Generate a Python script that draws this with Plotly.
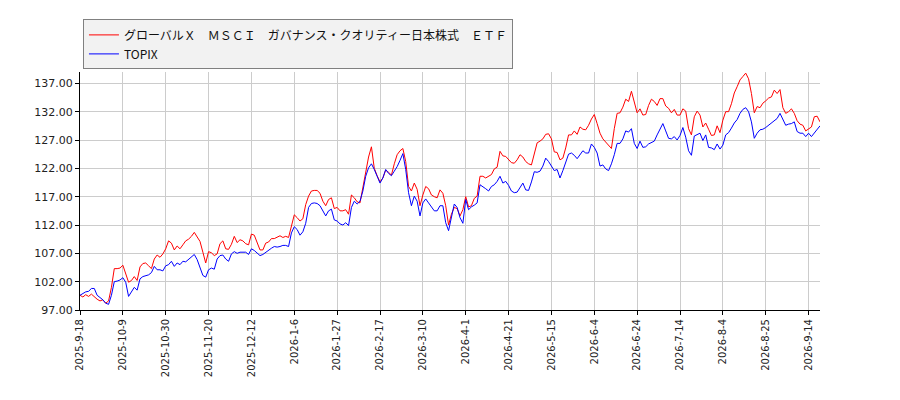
import plotly.graph_objects as go

# ---------------------------------------
# Data (one value per trading day)
# ---------------------------------------
etf_name = "グローバルＸ　ＭＳＣＩ　ガバナンス・クオリティー日本株式　ＥＴＦ"
topix_name = "TOPIX"

etf = [
    99.6, 99.3, 99.7, 99.4, 99.8, 99.3, 98.9, 98.6, 98.8, 98.2, 98.6, 101.0, 104.3, 104.3, 104.4, 104.9,
    103.4, 101.9, 102.2, 102.9, 102.2, 104.6, 105.2, 105.3, 104.8, 104.3, 106.0, 106.7, 106.3, 106.9, 107.8,
    109.2, 108.8, 107.6, 108.3, 107.8, 108.5, 109.2, 109.5, 110.0, 110.7, 109.8, 109.1, 107.2, 105.3, 107.3,
    107.1, 106.6, 106.9, 108.7, 109.2, 107.8, 107.7, 108.6,
    110.0, 108.9, 109.4, 109.2, 108.7, 108.5, 110.4,
    110.2, 108.9, 107.6, 107.6, 108.8, 109.0, 109.6, 109.6, 109.8, 110.1, 109.8, 110.0, 109.8, 111.9, 113.8,
    113.3, 112.7, 113.1, 115.6, 117.1, 118.0, 118.1, 118.1, 117.6, 116.2, 115.4, 116.5, 116.8, 114.9, 115.1,
    114.5, 114.5, 114.7, 113.9, 117.3, 116.8, 116.1, 115.9, 118.8, 121.7, 124.0, 125.8, 122.0, 120.7, 119.6,
    120.3, 121.7, 121.3, 120.8, 122.8, 124.4, 125.1, 125.5, 123.2, 118.8, 118.0, 119.4, 118.3, 115.4, 117.3,
    118.8, 118.4, 117.3, 117.0, 116.8, 118.2, 117.6, 115.4, 112.0, 113.9, 115.1, 114.9, 113.6, 114.7, 117.0,
    115.2, 115.4, 116.7, 117.1, 120.6, 120.6, 120.3, 120.6, 120.9, 121.9, 122.2, 125.0, 124.2, 124.1, 123.6,
    123.0, 122.9, 123.5, 124.4, 124.0, 123.2, 122.8, 122.6, 124.4, 126.5, 126.8, 127.2, 128.0, 128.1, 127.2,
    124.9, 124.8, 123.5, 123.8, 125.6, 127.9, 127.9, 128.6, 128.0, 129.3, 128.9, 128.8, 129.6, 130.7, 131.5,
    129.9, 128.2, 127.2, 126.6, 126.1, 125.5, 129.0, 131.7, 131.8, 132.8, 134.2, 133.8, 135.6, 133.6, 131.8,
    132.5, 131.4, 131.5, 133.1, 134.2, 133.8, 133.1, 134.3, 134.3, 133.0, 132.6, 131.8, 132.4, 131.4, 131.4,
    132.5, 132.1, 129.0, 127.9, 131.1, 132.1, 131.4, 129.3, 130.0, 128.9, 127.8, 127.9, 129.5, 128.3, 130.5,
    132.0, 132.0, 133.4, 135.3, 136.4, 137.6, 138.2, 138.8, 137.8, 135.2, 131.8, 132.9, 132.7, 133.5, 133.9,
    134.4, 134.6, 135.8, 135.2, 135.9, 132.7, 131.7, 132.0, 132.5, 131.7, 130.4, 129.8, 129.6, 128.6, 129.0,
    129.3, 131.1, 131.2, 130.2,
]

topix = [
    99.6, 99.9, 100.2, 100.3, 100.8, 100.8, 99.6, 99.2, 98.8, 98.2, 98.0, 99.6, 102.0, 102.1, 102.3, 102.7,
    101.9, 99.4, 100.3, 101.0, 100.5, 102.5, 102.9, 103.0, 103.2, 103.6, 104.7, 104.1, 104.1, 103.9, 104.8,
    105.0, 105.6, 104.7, 105.3, 105.0, 105.6, 105.5, 105.9, 106.3, 106.8, 105.9, 104.6, 103.1, 102.8, 104.1,
    104.4, 104.2, 106.0, 106.6, 106.7, 106.0, 105.6, 106.9,
    107.3, 107.0, 107.2, 107.2, 107.2, 106.8, 107.8,
    107.5, 107.0, 106.6, 106.8, 107.2, 107.5, 107.9, 108.2, 108.1, 108.2, 108.4, 108.4, 108.2, 110.6, 111.7,
    111.2, 110.2, 110.8, 112.3, 115.1, 115.8, 115.9, 115.8, 115.4, 114.5, 113.6, 114.5, 114.8, 112.9, 112.7,
    112.2, 112.0, 112.4, 111.9, 115.1, 116.2, 115.7, 116.2, 118.0, 120.6, 122.1, 122.8, 121.8, 120.5, 119.4,
    120.3, 121.8, 121.1, 120.7, 121.5, 122.3, 123.4, 124.6, 121.8, 117.7, 115.4, 117.1, 116.2, 113.6, 115.9,
    116.6, 115.9, 115.1, 114.5, 114.5, 115.4, 115.4, 112.4, 111.0, 113.6, 115.7, 115.1, 113.3, 112.3, 116.5,
    114.7, 115.2, 115.5, 115.9, 119.1, 118.8, 118.4, 118.0, 118.8, 119.1, 119.7, 120.6, 119.4, 119.7, 119.0,
    118.0, 117.7, 117.8, 118.6, 119.4, 118.2, 118.1, 119.6, 121.4, 121.3, 121.5, 122.4, 123.8, 123.2, 122.4,
    121.6, 121.8, 120.3, 121.6, 122.9, 124.5, 124.7, 124.3, 123.7, 124.5, 125.1, 124.7, 124.7, 126.3, 125.7,
    124.7, 122.4, 122.6, 121.9, 121.6, 122.8, 124.4, 126.4, 126.4, 127.2, 128.6, 128.4, 129.0, 126.4, 125.5,
    126.8, 125.7, 125.8, 126.3, 126.6, 126.8, 127.9, 128.8, 129.9, 128.6, 127.3, 127.2, 127.6, 127.0, 127.8,
    129.2, 127.5, 125.1, 124.3, 127.7, 127.9, 128.2, 126.9, 127.9, 125.7, 125.6, 125.3, 126.3, 125.4, 126.1,
    127.9, 128.3, 129.1, 130.0, 130.6, 131.7, 132.4, 132.7, 132.0, 130.2, 127.3, 128.2, 128.8, 128.9, 129.2,
    129.6, 130.0, 130.5, 130.8, 131.7, 130.5, 129.6, 129.8, 129.9, 130.2, 128.5, 128.2, 128.2, 127.6, 128.2,
    127.6, 128.3, 129.0, 129.5,
]

# every 15th trading day gets a date label
tick_labels = [
    "2025-9-18", "2025-10-9", "2025-10-30", "2025-11-20", "2025-12-12", "2026-1-6",
    "2026-1-27", "2026-2-17", "2026-3-10", "2026-4-1", "2026-4-21", "2026-5-15",
    "2026-6-4", "2026-6-24", "2026-7-14", "2026-8-4", "2026-8-25", "2026-9-14",
]
tick_step = 15

y_ticks = [97, 102, 107, 112, 117, 122, 127, 132, 137]

# ---------------------------------------
# Build figure
# (page body has an 8px margin, so the figure is sized 892x392)
# ---------------------------------------
days = list(range(len(etf)))

fig = go.Figure()
fig.add_trace(go.Scatter(x=days, y=etf, mode="lines", name=etf_name,
                         line=dict(color="#ff0000", width=1)))
fig.add_trace(go.Scatter(x=days, y=topix, mode="lines", name=topix_name,
                         line=dict(color="#0000ff", width=1)))

fig.update_layout(
    width=892, height=392,
    margin=dict(l=72, r=80, t=62, b=90),
    paper_bgcolor="white", plot_bgcolor="white",
    font=dict(family="DejaVu Sans, Noto Sans CJK JP", size=11, color="#222222"),
    showlegend=True,
    legend=dict(
        x=0.004, y=1.221, xanchor="left", yanchor="top",
        bgcolor="#f2f2f2", bordercolor="#808080", borderwidth=1,
        font=dict(family="Noto Sans CJK JP, DejaVu Sans", size=12, color="#111111"),
        tracegroupgap=0, itemwidth=30,
    ),
)

fig.update_xaxes(
    range=[0, len(etf) - 1],
    tickmode="array",
    tickvals=[i * tick_step for i in range(len(tick_labels))],
    ticktext=tick_labels,
    tickangle=-90,
    tickfont=dict(size=10),
    showgrid=True, gridcolor="#cccccc", gridwidth=1,
    showline=True, linecolor="black", linewidth=1,
    ticks="outside", ticklen=4, tickcolor="black",
    zeroline=False,
)
fig.update_yaxes(
    range=[97, 139],
    tickmode="array",
    tickvals=y_ticks,
    tickformat=".2f",
    showgrid=True, gridcolor="#cccccc", gridwidth=1,
    showline=True, linecolor="black", linewidth=1,
    ticks="outside", ticklen=4, tickcolor="black",
    zeroline=False,
)

fig.write_html("out.html")
